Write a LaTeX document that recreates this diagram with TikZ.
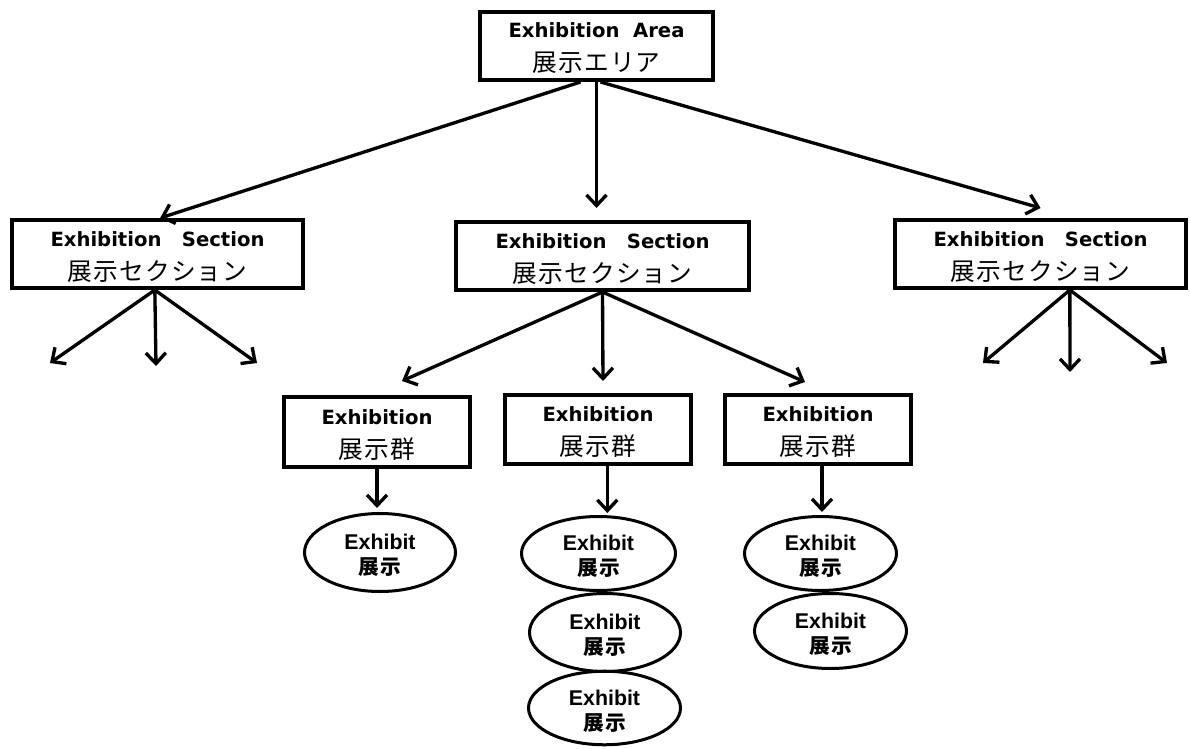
\documentclass[tikz,border=0pt]{standalone}
\usepackage{fontspec}
\usepackage{tikz}
\usetikzlibrary{arrows.meta,shapes.geometric}

\newfontfamily\enfont{DejaVu Sans}
\newfontfamily\exfont{Liberation Sans}
\newfontfamily\jafont[LetterSpace=5]{Noto Sans CJK JP}
\newcommand{\boxja}[1]{{\jafont\mdseries\fontsize{18.5pt}{25.5pt}\selectfont #1}}
\newcommand{\ellja}[1]{{\jafont\fontsize{15.5pt}{18.5pt}\selectfont #1}}

\begin{document}
\begin{tikzpicture}[x=0.75pt,y=-0.75pt,
	hbox/.style={draw,line width=3pt,inner sep=0pt,align=center,
		minimum height=51pt,text height=42pt,text depth=3pt,
		font=\enfont\bfseries\fontsize{14.7pt}{25.5pt}\selectfont},
	exh/.style={draw,ellipse,line width=2.25pt,inner sep=0pt,align=center,
		minimum width=114pt,minimum height=56pt,text height=36pt,text depth=3pt,
		font=\exfont\bfseries\fontsize{16pt}{18.5pt}\selectfont},
	arr/.style={line width=2.5pt,-{Straight Barb[length=8pt,width=15pt]}}]
	\useasboundingbox (0,0) rectangle (1190,749);
	% area and sections
	\node[hbox,minimum width=174.75pt] (area) at (596.5,46) {Exhibition~~Area\\\boxja{展示エリア}};
	\node[hbox,minimum width=218.25pt] (secL) at (157.5,254) {Exhibition~~~Section\\\boxja{展示セクション}};
	\node[hbox,minimum width=219.75pt] (secM) at (602.5,256) {Exhibition~~~Section\\\boxja{展示セクション}};
	\node[hbox,minimum width=218.25pt] (secR) at (1040.5,254) {Exhibition~~~Section\\\boxja{展示セクション}};
	\draw[arr] ([xshift=-12pt]area.south) -- ([xshift=2pt]secL.north);
	\draw[arr] (area.south) -- ([yshift=9pt]secM.north -| area.south);
	\draw[arr] ([xshift=3pt]area.south) -- ([yshift=7.5pt]secR.north);
	% arrows leaving the outer sections
	\coordinate (secL-a) at (50,363);
	\coordinate (secL-b) at (156,366);
	\coordinate (secL-c) at (257,363);
	\coordinate (secR-a) at (983,363);
	\coordinate (secR-b) at (1070,372);
	\coordinate (secR-c) at (1167,363);
	\draw[arr] ([xshift=-2pt]secL.south) -- (secL-a);
	\draw[arr] ([xshift=-2pt]secL.south) -- (secL-b);
	\draw[arr] ([xshift=-2pt]secL.south) -- (secL-c);
	\draw[arr] ([xshift=22pt]secR.south) -- (secR-a);
	\draw[arr] ([xshift=22pt]secR.south) -- (secR-b);
	\draw[arr] ([xshift=22pt]secR.south) -- (secR-c);
	% groups
	\node[hbox,minimum width=139.5pt,minimum height=52.5pt] (grpL) at (377,432) {Exhibition\\\boxja{展示群}};
	\node[hbox,minimum width=139.5pt,minimum height=51.75pt] (grpM) at (598,429.5) {Exhibition\\\boxja{展示群}};
	\node[hbox,minimum width=139.5pt,minimum height=51.75pt] (grpR) at (818,429.5) {Exhibition\\\boxja{展示群}};
	\draw[arr] (secM.south) -- ([shift={(25,-14)}]grpL.north);
	\draw[arr] (secM.south) -- ([shift={(5,-12)}]grpM.north);
	\draw[arr] (secM.south) -- ([shift={(-13,-11)}]grpR.north);
	% exhibits
	\node[exh,minimum width=113.25pt,minimum height=58.5pt] (exL) at (380,552.5) {Exhibit\\\ellja{展示}};
	\node[exh,minimum width=115.5pt,minimum height=55.5pt] (exM1) at (598.5,553.5) {Exhibit\\\ellja{展示}};
	\node[exh,minimum width=113.25pt,minimum height=58.5pt] (exM2) at (605,632.5) {Exhibit\\\ellja{展示}};
	\node[exh,minimum height=50.25pt] (exM3) at (604.5,708) {Exhibit\\\ellja{展示}};
	\node[exh,minimum height=55.5pt] (exR1) at (820.5,553.5) {Exhibit\\\ellja{展示}};
	\node[exh,minimum height=56.25pt] (exR2) at (830.5,631) {Exhibit\\\ellja{展示}};
	\draw[arr] (grpL.south) -- ([yshift=3pt]exL.north -| grpL.south);
	\draw[arr] ([xshift=7pt]grpM.south) -- ([xshift=7pt,yshift=1.5pt]grpM.south |- exM1.north);
	\draw[arr] ([xshift=3pt]grpR.south) -- ([xshift=3pt,yshift=2.25pt]grpR.south |- exR1.north);
\end{tikzpicture}
\end{document}
